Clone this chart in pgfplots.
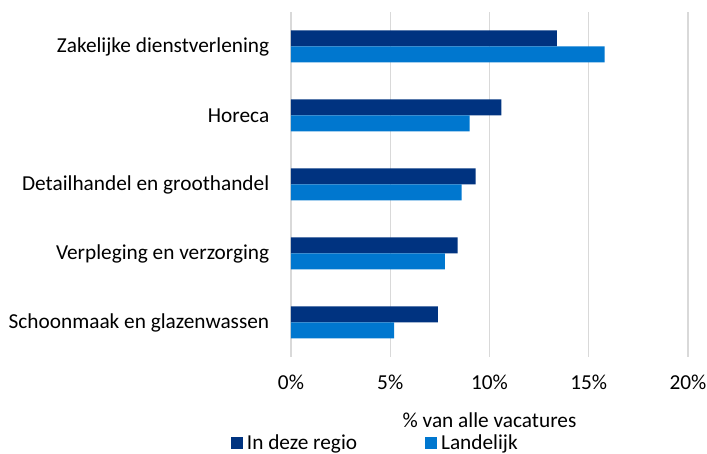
\documentclass[border=0pt]{standalone}
\usepackage{fontspec}
\setmainfont{Carlito}
\usepackage{pgfplots}
\pgfplotsset{compat=1.18}
\definecolor{darkblue}{HTML}{003380}
\definecolor{lightblue}{HTML}{0077CF}
\definecolor{gridgray}{HTML}{D9D9D9}
\begin{document}
\begin{tikzpicture}[font=\fontsize{21.3pt}{25pt}\selectfont]
\useasboundingbox (-291pt,-97pt) rectangle (416pt,357pt);
\begin{axis}[
  at={(0,0)}, anchor=south west,
  scale only axis, width=397pt, height=345pt,
  xbar, bar width=16pt,
  xmin=0, xmax=20, ymin=-0.5, ymax=4.5,
  xtick={0,5,10,15,20},
  xticklabel={\pgfmathprintnumber{\tick}\%},
  /pgf/number format/assume math mode=true,
  ytick={0,1,2,3,4},
  yticklabels={Schoonmaak en glazenwassen, Verpleging en verzorging, Detailhandel en groothandel, Horeca, Zakelijke dienstverlening},
  axis line style={draw=none},
  major tick style={draw=none},
  xmajorgrids, grid style={gridgray, line width=1.4pt},
  yticklabel style={xshift=-14pt},
  xticklabel style={yshift=-14pt},
  xlabel={\% van alle vacatures},
  xlabel style={yshift=-17pt},
  legend columns=2,
  legend style={draw=none, at={(0.215,-0.248)}, anchor=center, fill=none,
    /tikz/every even column/.append style={column sep=64pt},
    nodes={inner ysep=1pt, inner xsep=4pt}},
  legend image code/.code={\fill[#1] (0pt,-6pt) rectangle (12pt,6pt);},
]
\addplot[fill=darkblue, draw=none, bar shift=8pt] coordinates {(7.4,0) (8.4,1) (9.3,2) (10.6,3) (13.4,4)};
\addlegendentry{In deze regio}
\addplot[fill=lightblue, draw=none, bar shift=-8pt] coordinates {(5.2,0) (7.75,1) (8.6,2) (9.0,3) (15.8,4)};
\addlegendentry{Landelijk}
\end{axis}
\end{tikzpicture}
\end{document}
